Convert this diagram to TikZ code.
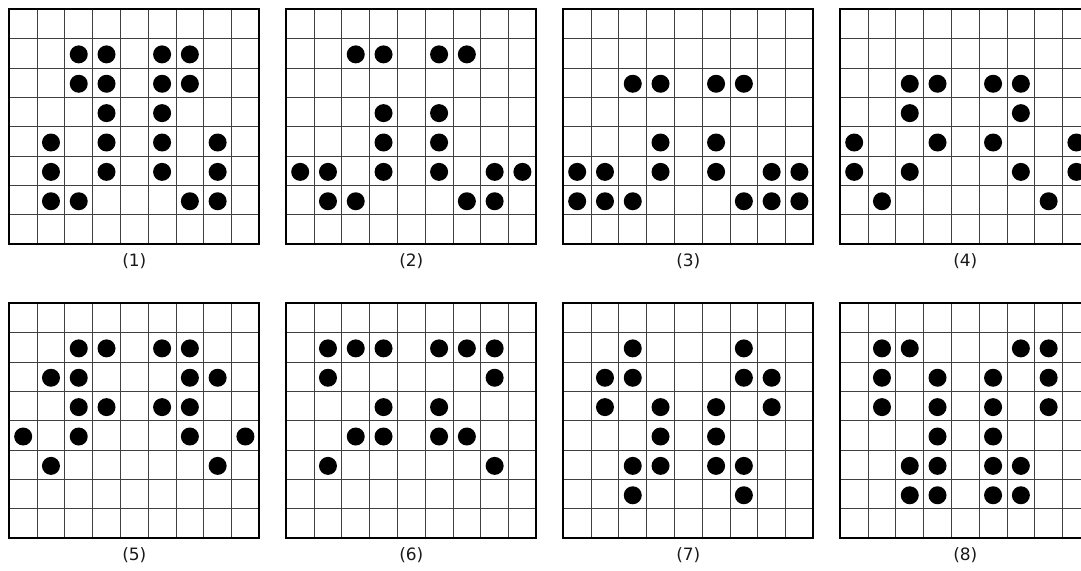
\documentclass[tikz,border=0pt]{standalone}
\usepackage{fontspec}
\setmainfont{DejaVu Sans}
\tikzset{
  gridline/.style={draw=black!75, line width=0.9pt},
  border/.style={draw=black, line width=1.7pt},
  stone/.style={fill=black},
  caption/.style={font=\fontsize{17}{20}\selectfont, text=black!90, inner sep=0pt},
}
\newcommand{\board}[4]{%
  \begin{scope}[shift={(#1,#2)}]
    \foreach \i in {1,...,8} \draw[gridline] (\i*27.778,0) -- (\i*27.778,235);
    \foreach \j in {1,...,7} \draw[gridline] (0,\j*29.375) -- (250,\j*29.375);
    \draw[border] (0,0) rectangle (250,235);
    \foreach \c/\r in {#4} \fill[stone] (\c*27.778+13.889, \r*29.375+15.7) circle (9pt);
    \node[caption] (lab#3) at (125,251.7) {(#3)};
  \end{scope}}
\begin{document}
\begin{tikzpicture}[x=1pt,y=-1pt]
\useasboundingbox (0,0) rectangle (1081,570);
\clip (0,0) rectangle (1081,570);
\board{9.3}{9.3}{1}{2/1,3/1,5/1,6/1, 2/2,3/2,5/2,6/2, 3/3,5/3, 1/4,3/4,5/4,7/4, 1/5,3/5,5/5,7/5, 1/6,2/6,6/6,7/6}
\board{286.3}{9.3}{2}{2/1,3/1,5/1,6/1, 3/3,5/3, 3/4,5/4, 0/5,1/5,3/5,5/5,7/5,8/5, 1/6,2/6,6/6,7/6}
\board{563.3}{9.3}{3}{2/2,3/2,5/2,6/2, 3/4,5/4, 0/5,1/5,3/5,5/5,7/5,8/5, 0/6,1/6,2/6,6/6,7/6,8/6}
\board{840.3}{9.3}{4}{2/2,3/2,5/2,6/2, 2/3,6/3, 0/4,3/4,5/4,8/4, 0/5,2/5,6/5,8/5, 1/6,7/6}
\board{9.3}{303.3}{5}{2/1,3/1,5/1,6/1, 1/2,2/2,6/2,7/2, 2/3,3/3,5/3,6/3, 0/4,2/4,6/4,8/4, 1/5,7/5}
\board{286.3}{303.3}{6}{1/1,2/1,3/1,5/1,6/1,7/1, 1/2,7/2, 3/3,5/3, 2/4,3/4,5/4,6/4, 1/5,7/5}
\board{563.3}{303.3}{7}{2/1,6/1, 1/2,2/2,6/2,7/2, 1/3,3/3,5/3,7/3, 3/4,5/4, 2/5,3/5,5/5,6/5, 2/6,6/6}
\board{840.3}{303.3}{8}{1/1,2/1,6/1,7/1, 1/2,3/2,5/2,7/2, 1/3,3/3,5/3,7/3, 3/4,5/4, 2/5,3/5,5/5,6/5, 2/6,3/6,5/6,6/6}
\end{tikzpicture}
\end{document}
